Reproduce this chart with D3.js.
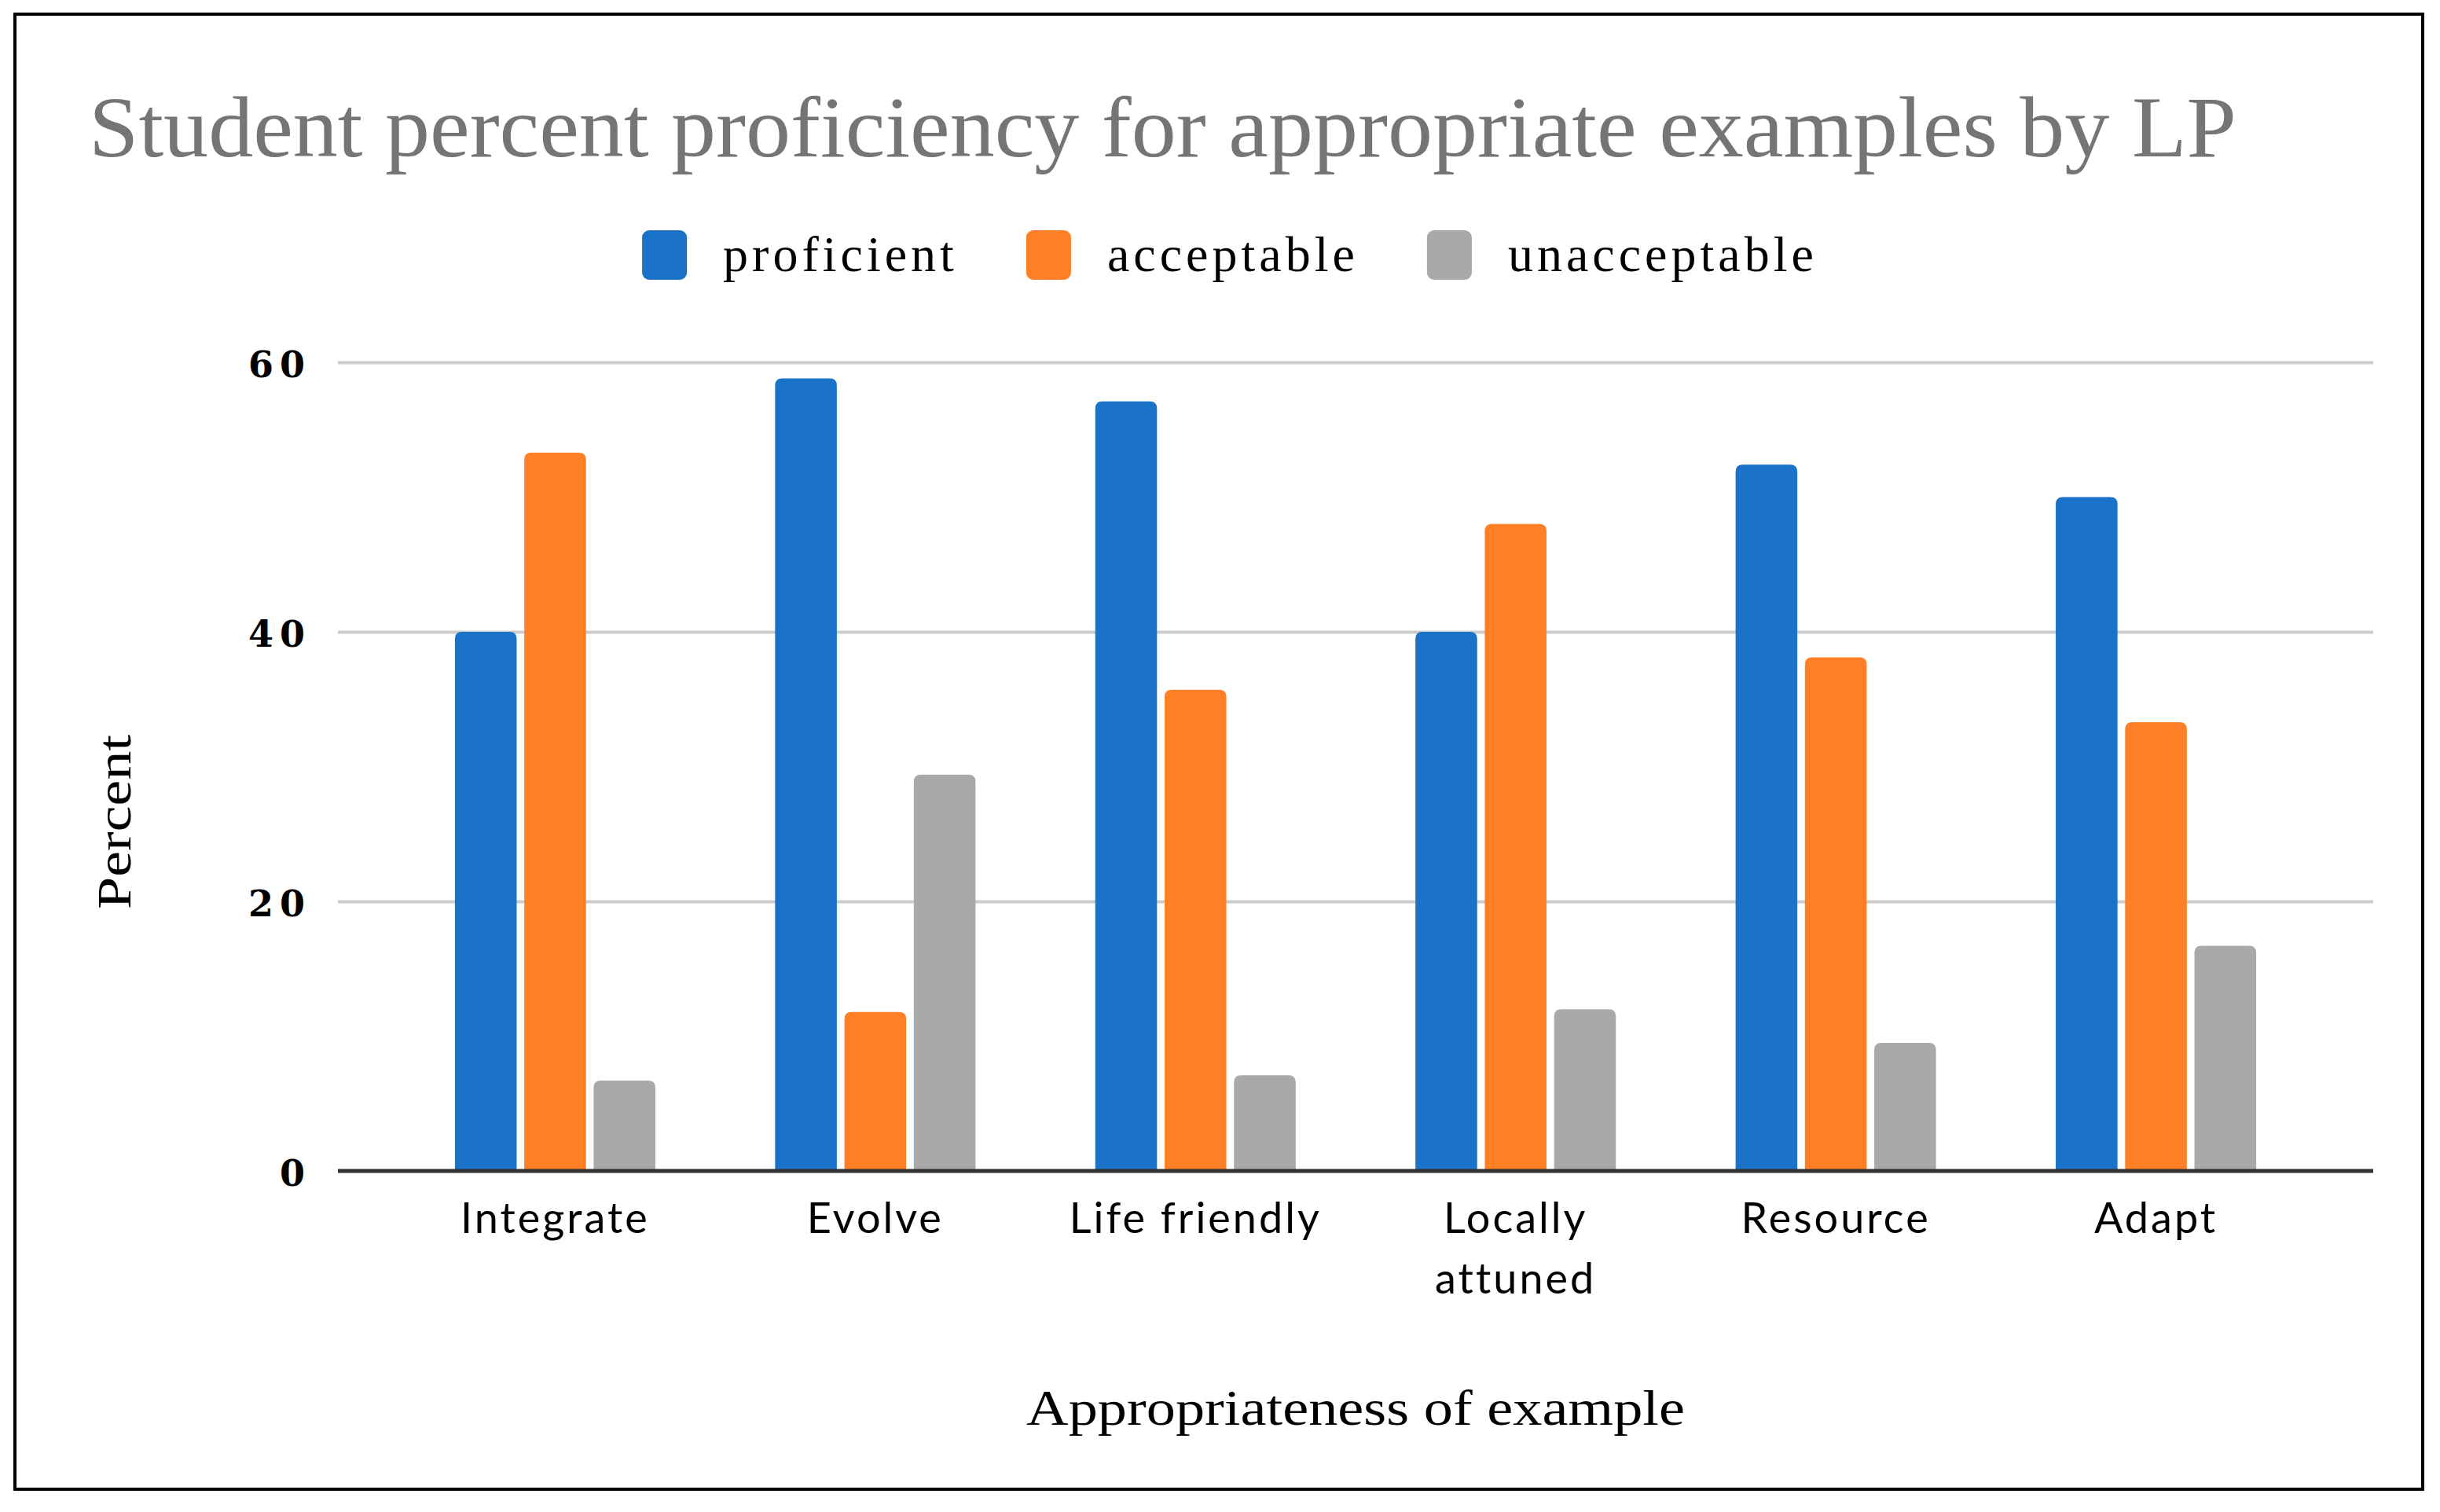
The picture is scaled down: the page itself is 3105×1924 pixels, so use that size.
<!DOCTYPE html>
<html>
<head>
<meta charset="utf-8">
<script src="https://cdn.jsdelivr.net/npm/d3@7"></script>
<style>
  body { margin: 0; background: #fff; }
</style>
</head>
<body>
<div id="chart"></div>
<script>
// data
const categories = ["Integrate", "Evolve", "Life friendly", "Locally attuned", "Resource", "Adapt"];
const seriesNames = ["proficient", "acceptable", "unacceptable"];
const proficient = [40, 58.8, 57.1, 40, 52.4, 50];
const acceptable = [53.3, 11.8, 35.7, 48, 38.1, 33.3];
const unacceptable = [6.7, 29.4, 7.1, 12, 9.5, 16.7];
const yTicks = [0, 20, 40, 60];
const colors = ["#1a73c8", "#ff7f27", "#a9a9a9"];

const seriesValues = [proficient, acceptable, unacceptable];
const data = categories.map((c, i) => ({
    cat: c,
    vals: seriesNames.map((s, j) => ({ key: s, value: seriesValues[j][i] }))
}));

const W = 3105, H = 1924;
const plot = { left: 430, right: 3020, top: 461, bottom: 1490 };

const svg = d3.select("#chart").append("svg")
    .attr("width", W)
    .attr("height", H);

// outer frame
svg.append("rect")
    .attr("x", 19).attr("y", 18)
    .attr("width", 3083 - 19).attr("height", 1895 - 18)
    .attr("fill", "#fff")
    .attr("stroke", "#000")
    .attr("stroke-width", 4);

// title
svg.append("text")
    .attr("x", 113)
    .attr("y", 199)
    .attr("textLength", 2733)
    .attr("lengthAdjust", "spacingAndGlyphs")
    .style("font-family", "'Liberation Serif', serif")
    .style("font-size", "110px")
    .style("fill", "#757575")
    .text("Student percent proficiency for appropriate examples by LP");

// scales
const yScale = d3.scaleLinear()
    .domain([0, 60])
    .range([plot.bottom, plot.top]);

const x0 = d3.scaleBand()
    .domain(categories)
    .range([plot.left, plot.right])
    .paddingInner(0.374)
    .paddingOuter(0.3655);

const x1 = d3.scaleBand()
    .domain(seriesNames)
    .range([0, x0.bandwidth()])
    .paddingInner(0.11);

const color = d3.scaleOrdinal()
    .domain(seriesNames)
    .range(colors);

// gridlines + y labels
const yAxis = svg.append("g")
    .attr("transform", `translate(${plot.left},0)`)
    .call(d3.axisLeft(yScale)
        .tickValues(yTicks)
        .tickSize(-(plot.right - plot.left))
        .tickPadding(34));

yAxis.select(".domain").remove();
yAxis.selectAll(".tick line")
    .attr("stroke", "#cccccc")
    .attr("stroke-width", 4);
yAxis.selectAll(".tick text")
    .attr("dy", "0.4em")
    .style("font-family", "'DejaVu Serif', serif")
    .style("font-weight", "bold")
    .style("font-size", "46px")
    .style("letter-spacing", "8px")
    .style("fill", "#000");

// bars with rounded tops
function topRounded(x, y, w, h, r) {
    r = Math.min(r, h, w / 2);
    return `M${x},${y + h}V${y + r}Q${x},${y} ${x + r},${y}H${x + w - r}Q${x + w},${y} ${x + w},${y + r}V${y + h}Z`;
}

const groups = svg.selectAll(".group")
    .data(data)
    .enter().append("g")
    .attr("class", "group")
    .attr("transform", d => `translate(${x0(d.cat)},0)`);

groups.selectAll("path")
    .data(d => d.vals)
    .enter().append("path")
    .attr("d", d => topRounded(x1(d.key), yScale(d.value), x1.bandwidth(), yScale(0) - yScale(d.value), 9))
    .attr("fill", d => color(d.key));

// baseline
svg.append("line")
    .attr("x1", plot.left).attr("x2", plot.right)
    .attr("y1", yScale(0)).attr("y2", yScale(0))
    .attr("stroke", "#333")
    .attr("stroke-width", 5);

// x labels (wrapped)
const xLabels = svg.append("g")
    .selectAll("text")
    .data(categories)
    .enter().append("text")
    .attr("x", d => x0(d) + x0.bandwidth() / 2)
    .attr("y", 1569)
    .style("font-family", "Lato, sans-serif")
    .style("font-size", "54px")
    .style("letter-spacing", "3px")
    .style("text-anchor", "middle")
    .style("fill", "#000");

xLabels.each(function(d) {
    const words = d === "Locally attuned" ? ["Locally", "attuned"] : [d];
    const t = d3.select(this);
    words.forEach((w, i) => {
        t.append("tspan")
            .attr("x", x0(d) + x0.bandwidth() / 2)
            .attr("dy", i === 0 ? 0 : 77)
            .text(w);
    });
});

// axis titles
svg.append("text")
    .attr("x", (plot.left + plot.right) / 2)
    .attr("y", 1813)
    .attr("textLength", 838)
    .attr("lengthAdjust", "spacingAndGlyphs")
    .style("font-family", "'Liberation Serif', serif")
    .style("font-size", "64px")
    .style("text-anchor", "middle")
    .style("fill", "#000")
    .text("Appropriateness of example");

svg.append("text")
    .attr("transform", "translate(166,1046) rotate(-90)")
    .attr("textLength", 222)
    .attr("lengthAdjust", "spacingAndGlyphs")
    .style("font-family", "'Liberation Serif', serif")
    .style("font-size", "62px")
    .style("text-anchor", "middle")
    .style("fill", "#000")
    .text("Percent");

// legend
const legend = svg.append("g");
const items = legend.selectAll(".legend")
    .data(seriesNames)
    .enter().append("g")
    .attr("class", "legend");

items.append("rect")
    .attr("x", 0).attr("y", 293)
    .attr("width", 57).attr("height", 63)
    .attr("rx", 9)
    .attr("fill", d => color(d));

items.append("text")
    .attr("x", 103)
    .attr("y", 345)
    .style("font-family", "'Liberation Serif', serif")
    .style("font-size", "64px")
    .style("letter-spacing", "5px")
    .style("fill", "#000")
    .text(d => d);

let cursor = 0;
const offsets = [];
items.each(function() {
    offsets.push(cursor);
    const tw = d3.select(this).select("text").node().getComputedTextLength();
    cursor += 103 + tw + 87;
});
const total = cursor - 87;
const startX = 1565 - total / 2;
items.attr("transform", (d, i) => `translate(${startX + offsets[i]},0)`);
</script>
</body>
</html>
